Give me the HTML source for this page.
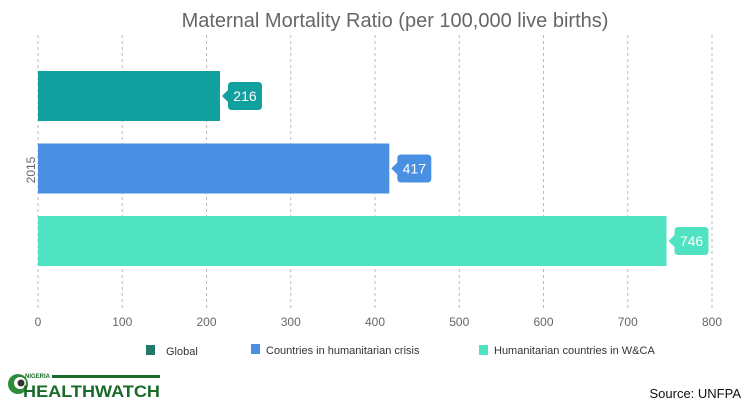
<!DOCTYPE html>
<html><head><meta charset="utf-8"><style>
body{margin:0;background:#fff;font-family:"Liberation Sans",sans-serif}
svg{display:block}
</style></head><body>
<svg width="750" height="405" id="c">
<text x="395" y="27" text-anchor="middle" font-size="20" fill="#666">Maternal Mortality Ratio (per 100,000 live births)</text>
<text transform="translate(35,170) rotate(-90)" text-anchor="middle" font-size="12" fill="#666">2015</text>
<g id="grid"></g><g id="bars"></g><g id="ticks"></g>
<g font-size="11" fill="#333">
<g><rect x="146" y="345" width="9" height="10" fill="#217a69"/><text x="166" y="355">Global</text></g>
<g><rect x="251" y="344" width="9" height="10" fill="#4a90e2"/><text x="266" y="354">Countries in humanitarian crisis</text></g>
<g><rect x="479" y="345" width="9" height="10" fill="#4fe3c1"/><text x="494" y="354">Humanitarian countries in W&amp;CA</text></g>
</g>
<g>
<circle cx="18" cy="384" r="10" fill="#2e8b3a"/><circle cx="20" cy="383" r="6" fill="#fff"/><circle cx="21" cy="383" r="3.5" fill="#333"/>
<rect x="52" y="375" width="108" height="3" fill="#1a6b2a"/>
<text x="25" y="378" font-size="6" font-weight="bold" fill="#1a6b2a">NIGERIA</text>
<text x="23" y="397" font-size="17" font-weight="bold" fill="#1a6b2a" textLength="137" lengthAdjust="spacingAndGlyphs">HEALTHWATCH</text>
</g>
<text x="741" y="398" text-anchor="end" font-size="13" fill="#111">Source:  UNFPA</text>
</svg>
<script>
const categories=["Global","Countries in humanitarian crisis","Humanitarian countries in W&CA"];
const values=[216,417,746];
const tickLabels=[0,100,200,300,400,500,600,700,800];
const colors=["#12a09e","#4a90e2","#4fe3c1"];
const ns="http://www.w3.org/2000/svg";
const x0=38,x1=712,maxV=800,yTop=35,yBot=308;
const xs=v=>x0+(x1-x0)*v/maxV;
function mk(t,a,p){const e=document.createElementNS(ns,t);for(const k in a)e.setAttribute(k,a[k]);p.appendChild(e);return e;}
const gG=document.getElementById('grid'),gB=document.getElementById('bars'),gT=document.getElementById('ticks');
tickLabels.forEach(v=>{
 const l=mk('line',{x1:xs(v),x2:xs(v),y1:yTop,y2:yBot,stroke:'#bbb','stroke-dasharray':'3,3'},gG);
 
 
 const t=mk('text',{x:xs(v),y:326,'text-anchor':'middle','font-size':12,fill:'#666'},gT);
 t.textContent=v;
 
 
});
values.forEach((v,i)=>{
 const y=71+72.5*i;
 const r=mk('rect',{x:x0,y:y,width:xs(v)-x0,height:50,fill:colors[i]},gB);
 
 
 const lx=xs(v)+8,cy=y+25;
 const p=mk('path',{d:`M${lx-6},${cy} L${lx},${cy-6} L${lx},${cy-10} Q${lx},${cy-14} ${lx+4},${cy-14} L${lx+30},${cy-14} Q${lx+34},${cy-14} ${lx+34},${cy-10} L${lx+34},${cy+10} Q${lx+34},${cy+14} ${lx+30},${cy+14} L${lx+4},${cy+14} Q${lx},${cy+14} ${lx},${cy+10} L${lx},${cy+6} Z`,fill:colors[i]},gB);
 
 
 const t=mk('text',{x:lx+17,y:cy+5,'text-anchor':'middle','font-size':14,fill:'#fff'},gB);
 t.textContent=v;
 
 
});
</script>
</body></html>
